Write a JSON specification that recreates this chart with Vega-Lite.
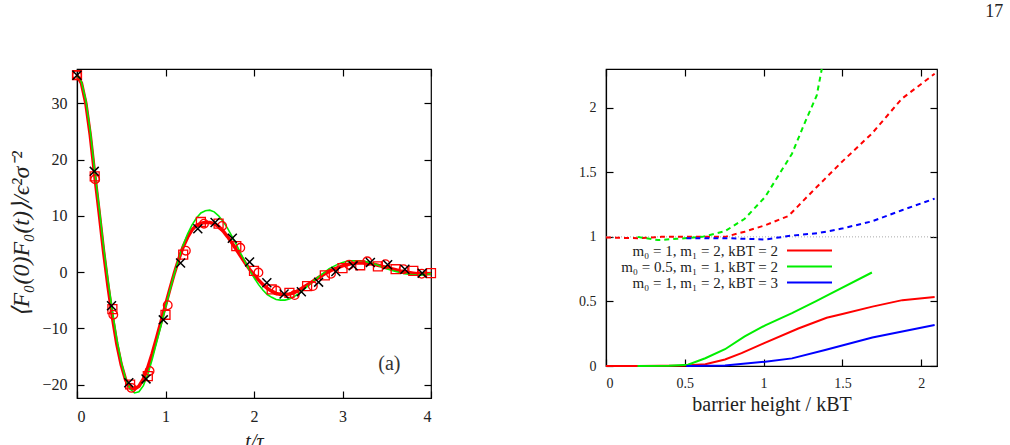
{
  "$schema": "https://vega.github.io/schema/vega-lite/v6.json",
  "background": "white",
  "padding": {"left": 8, "top": 3, "right": 0, "bottom": 0},
  "title": {"text": "17", "anchor": "end", "dx": 64, "offset": 43, "fontSize": 18, "font": "Liberation Serif", "fontWeight": "normal", "color": "#222"},
  "config": {
    "view": {"stroke": "black", "strokeWidth": 1.2},
    "axis": {
      "grid": false, "domainColor": "black", "domainWidth": 1.2, "tickColor": "black", "tickWidth": 1.2, "tickSize": 7,
      "labelFont": "Liberation Serif", "labelColor": "#222", "titleFont": "Liberation Serif", "titleColor": "#222", "titleFontWeight": "normal"
    }
  },
  "spacing": 138,
  "datasets": {
    "sim": [
      {"t": 0.00, "v": 35.0}, {"t": 0.05, "v": 33.6}, {"t": 0.10, "v": 30.0}, {"t": 0.15, "v": 24.3}, {"t": 0.20, "v": 17.3},
      {"t": 0.25, "v": 10.6}, {"t": 0.30, "v": 3.7}, {"t": 0.35, "v": -2.5}, {"t": 0.40, "v": -8.0}, {"t": 0.45, "v": -12.8},
      {"t": 0.50, "v": -16.5}, {"t": 0.55, "v": -19.2}, {"t": 0.60, "v": -20.5}, {"t": 0.65, "v": -20.8}, {"t": 0.70, "v": -20.3},
      {"t": 0.75, "v": -19.0}, {"t": 0.80, "v": -17.0}, {"t": 0.85, "v": -14.5}, {"t": 0.90, "v": -11.7}, {"t": 0.95, "v": -8.8},
      {"t": 1.00, "v": -5.9}, {"t": 1.05, "v": -3.0}, {"t": 1.10, "v": -0.2}, {"t": 1.15, "v": 2.3}, {"t": 1.20, "v": 4.5},
      {"t": 1.25, "v": 6.2}, {"t": 1.30, "v": 7.5}, {"t": 1.35, "v": 8.3}, {"t": 1.40, "v": 8.7}, {"t": 1.45, "v": 8.8},
      {"t": 1.50, "v": 8.8}, {"t": 1.55, "v": 8.6}, {"t": 1.60, "v": 8.1}, {"t": 1.65, "v": 7.3}, {"t": 1.70, "v": 6.3},
      {"t": 1.75, "v": 5.2}, {"t": 1.80, "v": 4.0}, {"t": 1.85, "v": 2.8}, {"t": 1.90, "v": 1.6}, {"t": 1.95, "v": 0.5},
      {"t": 2.00, "v": -0.5}, {"t": 2.05, "v": -1.4}, {"t": 2.10, "v": -2.2}, {"t": 2.15, "v": -2.9}, {"t": 2.20, "v": -3.4},
      {"t": 2.25, "v": -3.8}, {"t": 2.30, "v": -4.0}, {"t": 2.35, "v": -4.0}, {"t": 2.40, "v": -3.9}, {"t": 2.45, "v": -3.7},
      {"t": 2.50, "v": -3.3}, {"t": 2.55, "v": -2.8}, {"t": 2.60, "v": -2.3}, {"t": 2.65, "v": -1.8}, {"t": 2.70, "v": -1.3},
      {"t": 2.75, "v": -0.8}, {"t": 2.80, "v": -0.3}, {"t": 2.85, "v": 0.1}, {"t": 2.90, "v": 0.5}, {"t": 2.95, "v": 0.8},
      {"t": 3.00, "v": 1.1}, {"t": 3.05, "v": 1.3}, {"t": 3.10, "v": 1.5}, {"t": 3.15, "v": 1.6}, {"t": 3.20, "v": 1.6},
      {"t": 3.25, "v": 1.6}, {"t": 3.30, "v": 1.5}, {"t": 3.35, "v": 1.4}, {"t": 3.40, "v": 1.2}, {"t": 3.45, "v": 1.0},
      {"t": 3.50, "v": 0.8}, {"t": 3.55, "v": 0.6}, {"t": 3.60, "v": 0.4}, {"t": 3.65, "v": 0.2}, {"t": 3.70, "v": 0.1},
      {"t": 3.75, "v": -0.1}, {"t": 3.80, "v": -0.2}, {"t": 3.85, "v": -0.3}, {"t": 3.90, "v": -0.3}, {"t": 3.95, "v": -0.3},
      {"t": 4.00, "v": -0.3}
    ],
    "theory": [
      {"t": 0.00, "v": 35.0}, {"t": 0.05, "v": 33.8}, {"t": 0.10, "v": 30.5}, {"t": 0.15, "v": 25.0}, {"t": 0.20, "v": 18.0},
      {"t": 0.25, "v": 11.5}, {"t": 0.30, "v": 4.5}, {"t": 0.35, "v": -1.5}, {"t": 0.40, "v": -7.0}, {"t": 0.45, "v": -12.0},
      {"t": 0.50, "v": -16.0}, {"t": 0.55, "v": -19.0}, {"t": 0.60, "v": -20.8}, {"t": 0.65, "v": -21.5}, {"t": 0.70, "v": -21.3},
      {"t": 0.75, "v": -20.2}, {"t": 0.80, "v": -18.2}, {"t": 0.85, "v": -15.5}, {"t": 0.90, "v": -12.5}, {"t": 0.95, "v": -9.5},
      {"t": 1.00, "v": -6.3}, {"t": 1.05, "v": -3.2}, {"t": 1.10, "v": -0.3}, {"t": 1.15, "v": 2.4}, {"t": 1.20, "v": 4.8},
      {"t": 1.25, "v": 6.8}, {"t": 1.30, "v": 8.4}, {"t": 1.35, "v": 9.6}, {"t": 1.40, "v": 10.5}, {"t": 1.45, "v": 10.9},
      {"t": 1.50, "v": 11.0}, {"t": 1.55, "v": 10.7}, {"t": 1.60, "v": 10.0}, {"t": 1.65, "v": 9.0}, {"t": 1.70, "v": 7.8},
      {"t": 1.75, "v": 6.4}, {"t": 1.80, "v": 4.9}, {"t": 1.85, "v": 3.3}, {"t": 1.90, "v": 1.8}, {"t": 1.95, "v": 0.3},
      {"t": 2.00, "v": -1.0}, {"t": 2.05, "v": -2.2}, {"t": 2.10, "v": -3.2}, {"t": 2.15, "v": -4.0}, {"t": 2.20, "v": -4.5},
      {"t": 2.25, "v": -4.9}, {"t": 2.30, "v": -5.0}, {"t": 2.35, "v": -5.0}, {"t": 2.40, "v": -4.8}, {"t": 2.45, "v": -4.4},
      {"t": 2.50, "v": -3.9}, {"t": 2.55, "v": -3.3}, {"t": 2.60, "v": -2.6}, {"t": 2.65, "v": -1.9}, {"t": 2.70, "v": -1.2},
      {"t": 2.75, "v": -0.6}, {"t": 2.80, "v": 0.0}, {"t": 2.85, "v": 0.6}, {"t": 2.90, "v": 1.0}, {"t": 2.95, "v": 1.4},
      {"t": 3.00, "v": 1.7}, {"t": 3.05, "v": 1.9}, {"t": 3.10, "v": 2.0}, {"t": 3.15, "v": 2.0}, {"t": 3.20, "v": 2.0},
      {"t": 3.25, "v": 1.9}, {"t": 3.30, "v": 1.7}, {"t": 3.35, "v": 1.5}, {"t": 3.40, "v": 1.2}, {"t": 3.45, "v": 0.9},
      {"t": 3.50, "v": 0.6}, {"t": 3.55, "v": 0.3}, {"t": 3.60, "v": 0.1}, {"t": 3.65, "v": -0.1}, {"t": 3.70, "v": -0.3},
      {"t": 3.75, "v": -0.4}, {"t": 3.80, "v": -0.5}, {"t": 3.85, "v": -0.5}, {"t": 3.90, "v": -0.5}, {"t": 3.95, "v": -0.4},
      {"t": 4.00, "v": -0.3}
    ],
    "crosses": [
      {"t": 0.0, "v": 35.0}, {"t": 0.195, "v": 17.9}, {"t": 0.39, "v": -6.0}, {"t": 0.585, "v": -19.7}, {"t": 0.78, "v": -19.0},
      {"t": 0.975, "v": -8.5}, {"t": 1.17, "v": 1.6}, {"t": 1.365, "v": 7.7}, {"t": 1.56, "v": 8.8}, {"t": 1.755, "v": 6.0},
      {"t": 1.95, "v": 1.8}, {"t": 2.145, "v": -1.9}, {"t": 2.34, "v": -3.9}, {"t": 2.535, "v": -3.5}, {"t": 2.73, "v": -1.8},
      {"t": 2.925, "v": 0.1}, {"t": 3.12, "v": 1.1}, {"t": 3.315, "v": 1.7}, {"t": 3.51, "v": 1.3}, {"t": 3.705, "v": 0.5},
      {"t": 3.9, "v": -0.2}
    ],
    "squares": [
      {"t": 0.0, "v": 35.0}, {"t": 0.2, "v": 17.0}, {"t": 0.4, "v": -6.6}, {"t": 0.6, "v": -20.0}, {"t": 0.8, "v": -18.5},
      {"t": 1.0, "v": -7.6}, {"t": 1.2, "v": 3.1}, {"t": 1.4, "v": 8.9}, {"t": 1.6, "v": 8.6}, {"t": 1.8, "v": 4.6},
      {"t": 2.0, "v": 0.2}, {"t": 2.2, "v": -3.1}, {"t": 2.4, "v": -3.7}, {"t": 2.6, "v": -2.5}, {"t": 2.8, "v": -0.6},
      {"t": 3.0, "v": 0.7}, {"t": 3.2, "v": 1.2}, {"t": 3.4, "v": 1.0}, {"t": 3.6, "v": 0.5}, {"t": 3.8, "v": 0.2},
      {"t": 4.0, "v": -0.2}
    ],
    "circles": [
      {"t": 0.0, "v": 35.0}, {"t": 0.205, "v": 16.5}, {"t": 0.41, "v": -7.6}, {"t": 0.615, "v": -20.6}, {"t": 0.82, "v": -17.6},
      {"t": 1.025, "v": -5.9}, {"t": 1.23, "v": 3.8}, {"t": 1.435, "v": 8.6}, {"t": 1.64, "v": 8.2}, {"t": 1.845, "v": 4.3},
      {"t": 2.05, "v": -0.1}, {"t": 2.255, "v": -3.3}, {"t": 2.46, "v": -4.1}, {"t": 2.665, "v": -2.5}, {"t": 2.87, "v": -0.3},
      {"t": 3.075, "v": 1.3}, {"t": 3.28, "v": 1.9}, {"t": 3.485, "v": 1.4}, {"t": 3.69, "v": 0.5}, {"t": 3.895, "v": -0.3}
    ],
    "panelLabel": [{"t": 3.53, "v": -16.4, "label": "(a)"}],
    "reference": [{"from": 0, "to": 2.1, "level": 1}],
    "solid": [
      {"x": 0.0, "y": 0.0, "series": "m₀ = 1, m₁ = 2, kBT = 2"},
      {"x": 0.2, "y": 0.0, "series": "m₀ = 1, m₁ = 2, kBT = 2"},
      {"x": 0.5, "y": 0.003, "series": "m₀ = 1, m₁ = 2, kBT = 2"},
      {"x": 0.63, "y": 0.013, "series": "m₀ = 1, m₁ = 2, kBT = 2"},
      {"x": 0.755, "y": 0.05, "series": "m₀ = 1, m₁ = 2, kBT = 2"},
      {"x": 0.86, "y": 0.1, "series": "m₀ = 1, m₁ = 2, kBT = 2"},
      {"x": 1.0, "y": 0.175, "series": "m₀ = 1, m₁ = 2, kBT = 2"},
      {"x": 1.22, "y": 0.29, "series": "m₀ = 1, m₁ = 2, kBT = 2"},
      {"x": 1.4, "y": 0.374, "series": "m₀ = 1, m₁ = 2, kBT = 2"},
      {"x": 1.5, "y": 0.402, "series": "m₀ = 1, m₁ = 2, kBT = 2"},
      {"x": 1.69, "y": 0.46, "series": "m₀ = 1, m₁ = 2, kBT = 2"},
      {"x": 1.88, "y": 0.51, "series": "m₀ = 1, m₁ = 2, kBT = 2"},
      {"x": 2.085, "y": 0.535, "series": "m₀ = 1, m₁ = 2, kBT = 2"},
      {"x": 0.2, "y": 0.0, "series": "m₀ = 0.5, m₁ = 1, kBT = 2"},
      {"x": 0.4, "y": 0.002, "series": "m₀ = 0.5, m₁ = 1, kBT = 2"},
      {"x": 0.52, "y": 0.01, "series": "m₀ = 0.5, m₁ = 1, kBT = 2"},
      {"x": 0.63, "y": 0.06, "series": "m₀ = 0.5, m₁ = 1, kBT = 2"},
      {"x": 0.755, "y": 0.13, "series": "m₀ = 0.5, m₁ = 1, kBT = 2"},
      {"x": 0.88, "y": 0.23, "series": "m₀ = 0.5, m₁ = 1, kBT = 2"},
      {"x": 1.01, "y": 0.315, "series": "m₀ = 0.5, m₁ = 1, kBT = 2"},
      {"x": 1.18, "y": 0.41, "series": "m₀ = 0.5, m₁ = 1, kBT = 2"},
      {"x": 1.33, "y": 0.5, "series": "m₀ = 0.5, m₁ = 1, kBT = 2"},
      {"x": 1.41, "y": 0.55, "series": "m₀ = 0.5, m₁ = 1, kBT = 2"},
      {"x": 1.687, "y": 0.724, "series": "m₀ = 0.5, m₁ = 1, kBT = 2"},
      {"x": 0.51, "y": 0.0, "series": "m₀ = 1, m₁ = 2, kBT = 3"},
      {"x": 0.755, "y": 0.003, "series": "m₀ = 1, m₁ = 2, kBT = 3"},
      {"x": 1.01, "y": 0.033, "series": "m₀ = 1, m₁ = 2, kBT = 3"},
      {"x": 1.18, "y": 0.059, "series": "m₀ = 1, m₁ = 2, kBT = 3"},
      {"x": 1.39, "y": 0.124, "series": "m₀ = 1, m₁ = 2, kBT = 3"},
      {"x": 1.69, "y": 0.22, "series": "m₀ = 1, m₁ = 2, kBT = 3"},
      {"x": 2.085, "y": 0.317, "series": "m₀ = 1, m₁ = 2, kBT = 3"}
    ],
    "dashed": [
      {"x": 0.0, "y": 0.995, "series": "m₀ = 1, m₁ = 2, kBT = 2"},
      {"x": 0.2, "y": 0.99, "series": "m₀ = 1, m₁ = 2, kBT = 2"},
      {"x": 0.35, "y": 1.0, "series": "m₀ = 1, m₁ = 2, kBT = 2"},
      {"x": 0.5, "y": 1.0, "series": "m₀ = 1, m₁ = 2, kBT = 2"},
      {"x": 0.755, "y": 1.0, "series": "m₀ = 1, m₁ = 2, kBT = 2"},
      {"x": 0.88, "y": 1.04, "series": "m₀ = 1, m₁ = 2, kBT = 2"},
      {"x": 1.01, "y": 1.09, "series": "m₀ = 1, m₁ = 2, kBT = 2"},
      {"x": 1.158, "y": 1.162, "series": "m₀ = 1, m₁ = 2, kBT = 2"},
      {"x": 1.306, "y": 1.348, "series": "m₀ = 1, m₁ = 2, kBT = 2"},
      {"x": 1.496, "y": 1.58, "series": "m₀ = 1, m₁ = 2, kBT = 2"},
      {"x": 1.687, "y": 1.8, "series": "m₀ = 1, m₁ = 2, kBT = 2"},
      {"x": 1.877, "y": 2.07, "series": "m₀ = 1, m₁ = 2, kBT = 2"},
      {"x": 2.085, "y": 2.263, "series": "m₀ = 1, m₁ = 2, kBT = 2"},
      {"x": 0.2, "y": 1.0, "series": "m₀ = 0.5, m₁ = 1, kBT = 2"},
      {"x": 0.33, "y": 0.975, "series": "m₀ = 0.5, m₁ = 1, kBT = 2"},
      {"x": 0.45, "y": 0.985, "series": "m₀ = 0.5, m₁ = 1, kBT = 2"},
      {"x": 0.61, "y": 1.0, "series": "m₀ = 0.5, m₁ = 1, kBT = 2"},
      {"x": 0.755, "y": 1.044, "series": "m₀ = 0.5, m₁ = 1, kBT = 2"},
      {"x": 0.88, "y": 1.14, "series": "m₀ = 0.5, m₁ = 1, kBT = 2"},
      {"x": 1.01, "y": 1.31, "series": "m₀ = 0.5, m₁ = 1, kBT = 2"},
      {"x": 1.18, "y": 1.644, "series": "m₀ = 0.5, m₁ = 1, kBT = 2"},
      {"x": 1.263, "y": 1.889, "series": "m₀ = 0.5, m₁ = 1, kBT = 2"},
      {"x": 1.337, "y": 2.095, "series": "m₀ = 0.5, m₁ = 1, kBT = 2"},
      {"x": 1.369, "y": 2.3, "series": "m₀ = 0.5, m₁ = 1, kBT = 2"},
      {"x": 0.51, "y": 0.99, "series": "m₀ = 1, m₁ = 2, kBT = 3"},
      {"x": 0.755, "y": 0.99, "series": "m₀ = 1, m₁ = 2, kBT = 3"},
      {"x": 1.01, "y": 0.98, "series": "m₀ = 1, m₁ = 2, kBT = 3"},
      {"x": 1.18, "y": 1.01, "series": "m₀ = 1, m₁ = 2, kBT = 3"},
      {"x": 1.35, "y": 1.03, "series": "m₀ = 1, m₁ = 2, kBT = 3"},
      {"x": 1.496, "y": 1.064, "series": "m₀ = 1, m₁ = 2, kBT = 3"},
      {"x": 1.687, "y": 1.12, "series": "m₀ = 1, m₁ = 2, kBT = 3"},
      {"x": 1.877, "y": 1.206, "series": "m₀ = 1, m₁ = 2, kBT = 3"},
      {"x": 2.085, "y": 1.296, "series": "m₀ = 1, m₁ = 2, kBT = 3"}
    ]
  },
  "hconcat": [
    {
      "width": 354,
      "height": 329,
      "resolve": {"axis": {"x": "independent", "y": "independent"}},
      "layer": [
        {
          "data": {"name": "sim"},
          "mark": {"type": "line", "color": "#ff0000", "strokeWidth": 3.5},
          "encoding": {
            "x": {"field": "t", "type": "quantitative", "scale": {"domain": [0, 4], "nice": false},
                  "axis": {"orient": "bottom", "values": [0, 1, 2, 3, 4], "ticks": false, "labelFontSize": 16, "labelPadding": 10,
                           "title": "t/τ", "titleFontSize": 20, "titleFontStyle": "italic", "titlePadding": 7}},
            "y": {"field": "v", "type": "quantitative", "scale": {"domain": [-22.4, 36.1], "nice": false, "zero": false},
                  "axis": {"orient": "left", "values": [-20, -10, 0, 10, 20, 30], "ticks": false, "labelFontSize": 16, "labelPadding": 10,
                           "title": "⟨F₀(0)F₀(t)⟩/ϵ²σ⁻²", "titleFontSize": 24, "titleFontStyle": "italic", "titlePadding": 8.5}}
          }
        },
        {
          "data": {"name": "theory"},
          "mark": {"type": "line", "color": "#00ee00", "strokeWidth": 1.6},
          "encoding": {
            "x": {"field": "t", "type": "quantitative", "scale": {"domain": [0, 4], "nice": false},
                  "axis": {"orient": "bottom", "offset": -7, "values": [0, 1, 2, 3, 4], "labels": false, "domain": false, "title": null}},
            "y": {"field": "v", "type": "quantitative", "scale": {"domain": [-22.4, 36.1], "nice": false, "zero": false},
                  "axis": {"orient": "left", "offset": -7, "values": [-20, -10, 0, 10, 20, 30], "labels": false, "domain": false, "title": null}}
          }
        },
        {
          "data": {"name": "circles"},
          "mark": {"type": "point", "shape": "circle", "filled": false, "color": "#ff0000", "strokeWidth": 1.3, "size": 75, "opacity": 1},
          "encoding": {
            "x": {"field": "t", "type": "quantitative", "scale": {"domain": [0, 4], "nice": false},
                  "axis": {"orient": "top", "offset": -7, "values": [0, 1, 2, 3, 4], "labels": false, "domain": false, "title": null}},
            "y": {"field": "v", "type": "quantitative", "scale": {"domain": [-22.4, 36.1], "nice": false, "zero": false},
                  "axis": {"orient": "right", "offset": -7, "values": [-20, -10, 0, 10, 20, 30], "labels": false, "domain": false, "title": null}}
          }
        },
        {
          "data": {"name": "squares"},
          "mark": {"type": "point", "shape": "square", "filled": false, "color": "#ff0000", "strokeWidth": 1.3, "size": 80, "opacity": 1},
          "encoding": {
            "x": {"field": "t", "type": "quantitative", "scale": {"domain": [0, 4], "nice": false}, "axis": null},
            "y": {"field": "v", "type": "quantitative", "scale": {"domain": [-22.4, 36.1], "nice": false, "zero": false}, "axis": null}
          }
        },
        {
          "data": {"name": "crosses"},
          "mark": {"type": "point", "shape": "M-1,-1L1,1M-1,1L1,-1", "filled": false, "color": "black", "strokeWidth": 1.5, "size": 80, "opacity": 1},
          "encoding": {
            "x": {"field": "t", "type": "quantitative", "scale": {"domain": [0, 4], "nice": false}, "axis": null},
            "y": {"field": "v", "type": "quantitative", "scale": {"domain": [-22.4, 36.1], "nice": false, "zero": false}, "axis": null}
          }
        },
        {
          "data": {"name": "panelLabel"},
          "mark": {"type": "text", "font": "Liberation Serif", "fontSize": 20, "color": "#333"},
          "encoding": {
            "x": {"field": "t", "type": "quantitative", "scale": {"domain": [0, 4], "nice": false}, "axis": null},
            "y": {"field": "v", "type": "quantitative", "scale": {"domain": [-22.4, 36.1], "nice": false, "zero": false}, "axis": null},
            "text": {"field": "label"}
          }
        }
      ]
    },
    {
      "width": 331,
      "height": 297,
      "resolve": {"axis": {"x": "independent", "y": "independent"}},
      "layer": [
        {
          "data": {"name": "reference"},
          "mark": {"type": "rule", "color": "#aaaaaa", "strokeWidth": 1, "strokeDash": [1, 2]},
          "encoding": {
            "x": {"field": "from", "type": "quantitative", "scale": {"domain": [0, 2.1], "nice": false},
                  "axis": {"orient": "top", "offset": -7, "values": [0, 0.5, 1, 1.5, 2], "labels": false, "domain": false, "title": null}},
            "x2": {"field": "to"},
            "y": {"field": "level", "type": "quantitative", "scale": {"domain": [0, 2.3], "nice": false},
                  "axis": {"orient": "right", "offset": -7, "values": [0, 0.5, 1, 1.5, 2], "labels": false, "domain": false, "title": null}}
          }
        },
        {
          "data": {"name": "solid"},
          "mark": {"type": "line", "strokeWidth": 2},
          "encoding": {
            "x": {"field": "x", "type": "quantitative", "scale": {"domain": [0, 2.1], "nice": false},
                  "axis": {"orient": "bottom", "values": [0, 0.5, 1, 1.5, 2], "format": "~g", "ticks": false, "labelFontSize": 14, "labelPadding": 10,
                           "title": "barrier height / kBT", "titleFontSize": 20, "titlePadding": 4}},
            "y": {"field": "y", "type": "quantitative", "scale": {"domain": [0, 2.3], "nice": false},
                  "axis": {"orient": "left", "values": [0, 0.5, 1, 1.5, 2], "format": "~g", "ticks": false, "labelFontSize": 14, "labelPadding": 10, "title": null}},
            "color": {"field": "series", "type": "nominal",
                      "scale": {"domain": ["m₀ = 1, m₁ = 2, kBT = 2", "m₀ = 0.5, m₁ = 1, kBT = 2", "m₀ = 1, m₁ = 2, kBT = 3"],
                                "range": ["#ff0000", "#00ee00", "#0000ff"]},
                      "legend": {"orient": "none", "legendX": 725, "legendY": 174, "title": null,
                                 "symbolType": "M-4.5,0H4.5", "symbolSize": 100, "symbolStrokeWidth": 2,
                                 "labelAlign": "right", "labelOffset": -39, "labelFont": "Liberation Serif",
                                 "labelFontSize": 15, "labelColor": "#222", "labelLimit": 0, "rowPadding": 0, "padding": 0}}
          }
        },
        {
          "data": {"name": "dashed"},
          "mark": {"type": "line", "strokeWidth": 2, "strokeDash": [5, 4]},
          "encoding": {
            "x": {"field": "x", "type": "quantitative", "scale": {"domain": [0, 2.1], "nice": false},
                  "axis": {"orient": "bottom", "offset": -7, "values": [0, 0.5, 1, 1.5, 2], "labels": false, "domain": false, "title": null}},
            "y": {"field": "y", "type": "quantitative", "scale": {"domain": [0, 2.3], "nice": false},
                  "axis": {"orient": "left", "offset": -7, "values": [0, 0.5, 1, 1.5, 2], "labels": false, "domain": false, "title": null}},
            "color": {"field": "series", "type": "nominal", "legend": null}
          }
        }
      ]
    }
  ]
}
